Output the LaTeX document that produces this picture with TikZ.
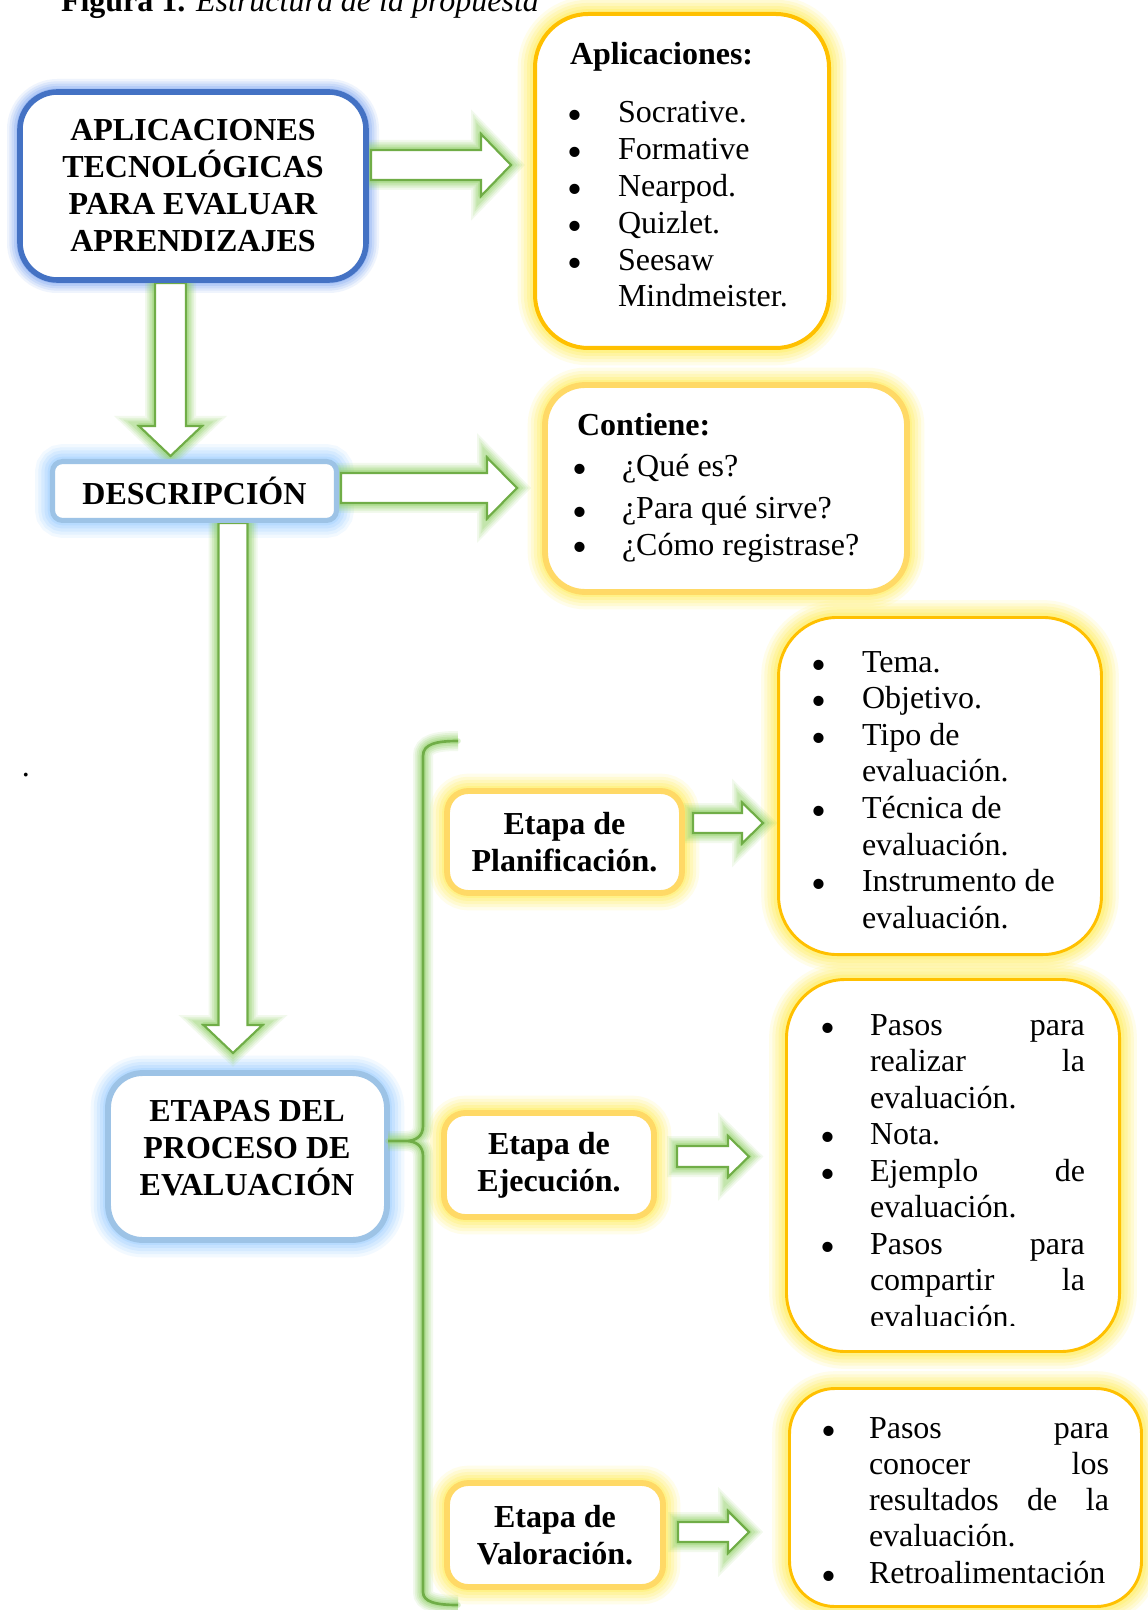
\documentclass[tikz,border=0pt]{standalone}
\usepackage{fontspec}
\setmainfont{Liberation Serif}
\usetikzlibrary{calc}
\definecolor{bluedark}{HTML}{4472C4}
\definecolor{blueglowA}{HTML}{7EA6F2}
\definecolor{bluelight}{HTML}{9DC3E6}
\definecolor{blueglowB}{HTML}{9CCEFF}
\definecolor{orangeA}{HTML}{FFC000}
\definecolor{orangeB}{HTML}{FFD966}
\definecolor{yglow}{HTML}{FFEF5A}
\definecolor{grn}{HTML}{70AD47}
\definecolor{gglow}{HTML}{96D46E}
\pgfdeclarelayer{glowlayer}
\pgfdeclarelayer{arrowlayer}
\pgfsetlayers{glowlayer,arrowlayer,main}
\newcommand\jline[2]{\hbox to #1{#2}}
\tikzset{
  txt/.style={font=\fontsize{12pt}{13.875pt}\selectfont, inner sep=0pt, outer sep=0pt},
  hd/.style={font=\fontsize{12pt}{13.875pt}\selectfont\bfseries, inner sep=0pt, outer sep=0pt},
  bul/.style={font=\fontsize{16pt}{16pt}\selectfont, inner sep=0pt, outer sep=0pt, anchor=base},
  bx/.style={draw, fill=white, rounded corners=#1, inner sep=0pt, outer sep=0pt},
  glowfx/.style 2 args={line join=round, line cap=round,
    preaction={draw=#1, line width=#2, draw opacity=0.12},
    preaction={draw=#1, line width=0.82*#2, draw opacity=0.16},
    preaction={draw=#1, line width=0.64*#2, draw opacity=0.2},
    preaction={draw=#1, line width=0.46*#2, draw opacity=0.26},
    draw=#1, line width=0.28*#2, draw opacity=0.35},
  blockarrow/.style={draw=grn, line width=0.8pt, fill=white, line join=miter},
}
\newcommand\harr[5]{%
  \begin{pgfonlayer}{glowlayer}
    \path[glowfx={gglow}{7.5pt}] ($(#1)+(0,-#3)$) -- ($(#2)+(-#5,-#3)$) -- ($(#2)+(-#5,-#4)$) -- (#2) -- ($(#2)+(-#5,#4)$) -- ($(#2)+(-#5,#3)$) -- ($(#1)+(0,#3)$) -- cycle;
  \end{pgfonlayer}
  \begin{pgfonlayer}{arrowlayer}
    \draw[blockarrow] ($(#1)+(0,-#3)$) -- ($(#2)+(-#5,-#3)$) -- ($(#2)+(-#5,-#4)$) -- (#2) -- ($(#2)+(-#5,#4)$) -- ($(#2)+(-#5,#3)$) -- ($(#1)+(0,#3)$) -- cycle;
  \end{pgfonlayer}}
\newcommand\varr[5]{%
  \begin{pgfonlayer}{glowlayer}
    \path[glowfx={gglow}{7.5pt}] ($(#1)+(-#3,0)$) -- ($(#2)+(-#3,-#5)$) -- ($(#2)+(-#4,-#5)$) -- (#2) -- ($(#2)+(#4,-#5)$) -- ($(#2)+(#3,-#5)$) -- ($(#1)+(#3,0)$) -- cycle;
  \end{pgfonlayer}
  \begin{pgfonlayer}{arrowlayer}
    \draw[blockarrow] ($(#1)+(-#3,0)$) -- ($(#2)+(-#3,-#5)$) -- ($(#2)+(-#4,-#5)$) -- (#2) -- ($(#2)+(#4,-#5)$) -- ($(#2)+(#3,-#5)$) -- ($(#1)+(#3,0)$) -- cycle;
  \end{pgfonlayer}}
\begin{document}
\begin{tikzpicture}[x=0.375pt,y=-0.375pt]
\useasboundingbox (0,0) rectangle (1147,1610);
\begin{pgfonlayer}{glowlayer}
  \fill[white] (0,0) rectangle (1147,1610);
\end{pgfonlayer}

% title and stray dot
\node[txt, anchor=base west] (title) at (61,12) {\textbf{Figura 1.} \textit{Estructura de la propuesta}};
\node[txt, anchor=base] (dot) at (26,776) {.};

% boxes
\node[bx=14pt, draw=bluedark, line width=2.1pt, minimum width=129.75pt, minimum height=70.5pt, hd, align=center] (box1) at (193,186) {APLICACIONES\\TECNOLÓGICAS\\PARA EVALUAR\\APRENDIZAJES};
\node[bx=20pt, draw=orangeA, line width=1.5pt, minimum width=110.25pt, minimum height=125.25pt] (apl) at (682,181) {};
\node[bx=3.75pt, draw=bluelight, line width=1.9pt, minimum width=106.5pt, minimum height=22.1pt, hd] (desc) at (194.5,491) {DESCRIPCIÓN};
\node[bx=15pt, draw=orangeB, line width=2.2pt, minimum width=135.75pt, minimum height=77.6pt] (cont) at (726,488.5) {};
\node[bx=13pt, draw=bluelight, line width=2.2pt, minimum width=104.6pt, minimum height=62.6pt] (etapas) at (247.5,1156.5) {};
\node[hd, align=center] (etapastxt) at (247,1148) {ETAPAS DEL\\PROCESO DE\\EVALUACIÓN};
\node[bx=8pt, draw=orangeB, line width=2.2pt, minimum width=88.1pt, minimum height=38.25pt, hd, align=center] (planif) at (564.5,842) {Etapa de\\Planificación.};
\node[bx=8pt, draw=orangeB, line width=2.2pt, minimum width=78.75pt, minimum height=39pt, hd, align=center] (ejec) at (549,1165) {Etapa de\\Ejecución.};
\node[bx=8pt, draw=orangeB, line width=2.2pt, minimum width=81pt, minimum height=39pt, hd, align=center] (valor) at (555,1535) {Etapa de\\Valoración.};
\node[bx=22pt, draw=orangeA, line width=1.1pt, minimum width=121.1pt, minimum height=126.4pt] (lplan) at (940,786) {};
\node[bx=22pt, draw=orangeA, line width=1.1pt, minimum width=124.9pt, minimum height=139.5pt] (lejec) at (953,1165.5) {};
\node[bx=17pt, draw=orangeA, line width=1.1pt, minimum width=132pt, minimum height=81.75pt] (lval) at (965.5,1497.5) {};

% glows of boxes
\begin{pgfonlayer}{glowlayer}
  \path[glowfx={blueglowA}{9.75pt}, rounded corners=14pt] (box1.north west) rectangle (box1.south east);
  \path[glowfx={blueglowB}{13pt}, rounded corners=3.75pt] (desc.north west) rectangle (desc.south east);
  \path[glowfx={blueglowB}{13pt}, rounded corners=13pt] (etapas.north west) rectangle (etapas.south east);
  \path[glowfx={yglow}{13pt}, rounded corners=20pt] (apl.north west) rectangle (apl.south east);
  \path[glowfx={yglow}{13pt}, rounded corners=15pt] (cont.north west) rectangle (cont.south east);
  \path[glowfx={yglow}{13pt}, rounded corners=8pt] (planif.north west) rectangle (planif.south east);
  \path[glowfx={yglow}{13pt}, rounded corners=8pt] (ejec.north west) rectangle (ejec.south east);
  \path[glowfx={yglow}{13pt}, rounded corners=8pt] (valor.north west) rectangle (valor.south east);
  \path[glowfx={yglow}{13pt}, rounded corners=22pt] (lplan.north west) rectangle (lplan.south east);
  \path[glowfx={yglow}{13pt}, rounded corners=22pt] (lejec.north west) rectangle (lejec.south east);
  \path[glowfx={yglow}{13pt}, rounded corners=17pt] (lval.north west) rectangle (lval.south east);
\end{pgfonlayer}

% block arrows
\coordinate (a1s) at (371,165);   \coordinate (a1t) at (511,165);
\coordinate (a2s) at (170.5,283); \coordinate (a2t) at (170.5,456);
\coordinate (a3s) at (341,488);   \coordinate (a3t) at (517,488);
\coordinate (a4s) at (233,523);   \coordinate (a4t) at (233,1053);
\coordinate (a5s) at (693,823);   \coordinate (a5t) at (763,823);
\coordinate (a6s) at (677,1156.5);\coordinate (a6t) at (749,1156.5);
\coordinate (a7s) at (678,1532);  \coordinate (a7t) at (749,1532);
\harr{a1s}{a1t}{15}{31}{30}
\varr{a2s}{a2t}{15.5}{31.5}{30}
\harr{a3s}{a3t}{15}{30.5}{30}
\varr{a4s}{a4t}{14.5}{29.5}{28}
\harr{a5s}{a5t}{10}{20.5}{21}
\harr{a6s}{a6t}{10.5}{20.5}{21}
\harr{a7s}{a7t}{10}{21}{21}

% brace
\coordinate (brtop) at (458,741);
\coordinate (brtip) at (388,1141);
\coordinate (brbot) at (458,1605);
\path[glowfx={gglow}{7.5pt}] (brtop) .. controls (436,741) and (423,744) .. (423,756) -- (423,1126) .. controls (423,1136) and (416,1141) .. (406,1141) -- (brtip) (406,1141) .. controls (416,1141) and (423,1146) .. (423,1156) -- (423,1592) .. controls (423,1602) and (436,1605) .. (brbot);
\draw[grn, line width=1pt] (brtop) .. controls (436,741) and (423,744) .. (423,756) -- (423,1126) .. controls (423,1136) and (416,1141) .. (406,1141) -- (brtip) (406,1141) .. controls (416,1141) and (423,1146) .. (423,1156) -- (423,1592) .. controls (423,1602) and (436,1605) .. (brbot);

% Aplicaciones list
\node[hd, anchor=base west] (aplhd) at (570,65) {Aplicaciones:};
\foreach \t [count=\i from 0] in {Socrative.,Formative,Nearpod.,Quizlet.,Seesaw,Mindmeister.}
  \node[txt, anchor=base west] (aplt\i) at (618,{123+36.8*\i}) {\t};
\foreach \i in {0,...,4}
  \node[bul] (aplb\i) at (575,{130+36.8*\i}) {•};

% Contiene list
\node[hd, anchor=base west] (conthd) at (577,436) {Contiene:};
\foreach \t/\y [count=\i] in {¿Qué es?/477,¿Para qué sirve?/519,¿Cómo registrase?/555}{
  \node[txt, anchor=base west] (contt\i) at (622,\y) {\t};
  \node[bul] (contb\i) at (580,\y+7) {•};
}

% Planificacion list
\foreach \t [count=\i from 0] in {Tema.,Objetivo.,Tipo de,evaluación.,Técnica de,evaluación.,Instrumento de,evaluación.}
  \node[txt, anchor=base west] (plt\i) at (862,{672+36.6*\i}) {\t};
\foreach \i in {0,1,2,4,6}
  \node[bul] (plb\i) at (819,{679+36.6*\i}) {•};

% Ejecucion list
\begin{scope}
\clip (790,990) rectangle (1110,1325);
\foreach \t [count=\i from 0] in {{\jline{80.6pt}{Pasos\hfil para}},{\jline{80.6pt}{realizar\hfil la}},evaluación.,Nota.,{\jline{80.6pt}{Ejemplo\hfil de}},evaluación.,{\jline{80.6pt}{Pasos\hfil para}},{\jline{80.6pt}{compartir\hfil la}},evaluación.}
  \node[txt, anchor=base west] (ejt\i) at (870,{1035+36.5*\i}) {\t};
\end{scope}
\foreach \i in {0,3,4,6}
  \node[bul] (ejb\i) at (828,{1042+36.5*\i}) {•};

% Valoracion list
\foreach \t [count=\i from 0] in {{\jline{90pt}{Pasos\hfil para}},{\jline{90pt}{conocer\hfil los}},{\jline{90pt}{resultados\hfil de\hfil la}},evaluación.,Retroalimentación}
  \node[txt, anchor=base west] (vat\i) at (869,{1438+36.3*\i}) {\t};
\foreach \i in {0,4}
  \node[bul] (vab\i) at (829,{1445+36.3*\i}) {•};
\end{tikzpicture}
\end{document}
